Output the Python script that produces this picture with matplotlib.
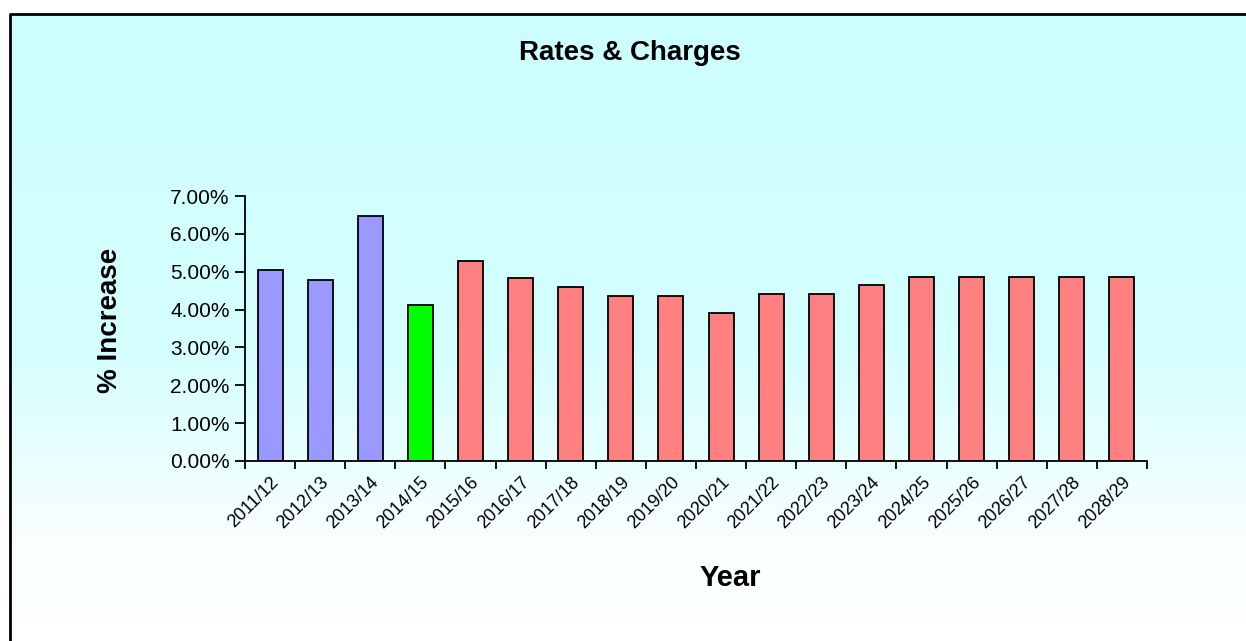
import matplotlib

matplotlib.use("Agg")
import matplotlib.pyplot as plt  # noqa: E402
import numpy as np  # noqa: E402
from matplotlib.lines import Line2D  # noqa: E402
from matplotlib.colors import LinearSegmentedColormap  # noqa: E402

plt.rcParams["font.family"] = ["Liberation Sans", "DejaVu Sans"]

years = ["2011/12", "2012/13", "2013/14", "2014/15", "2015/16", "2016/17",
         "2017/18", "2018/19", "2019/20", "2020/21", "2021/22", "2022/23",
         "2023/24", "2024/25", "2025/26", "2026/27", "2027/28", "2028/29"]
increase = [5.04, 4.79, 6.47, 4.13, 5.28, 4.83, 4.60, 4.36, 4.37, 3.90,
            4.40, 4.40, 4.64, 4.87, 4.87, 4.87, 4.87, 4.87]
period = ["past"] * 3 + ["current"] + ["forecast"] * 14

BAR_COLORS = {"past": "#9999FF", "current": "#00FF00", "forecast": "#FF8080"}

W, H = 1246, 641
fig = plt.figure(figsize=(W / 100, H / 100), dpi=100)
fig.patch.set_facecolor("white")

# background gradient panel
bg = fig.add_axes([10 / W, 0, 1 - 10 / W, 1 - 14 / H], zorder=0)
cmap = LinearSegmentedColormap.from_list(
    "bg", [(0, "#CCFFFF"), (0.55, "#D6FEFE"), (0.85, "#FAFFFF"), (1, "#FFFFFF")])
grad = np.linspace(0, 1, 256).reshape(-1, 1)
bg.imshow(grad, cmap=cmap, aspect="auto", extent=[0, 1, 0, 1], origin="upper")
bg.set_axis_off()

# border (top and left only)
fig.add_artist(Line2D([10 / W, 10 / W, 1], [0, 1 - 14 / H, 1 - 14 / H],
                      transform=fig.transFigure, color="black", linewidth=2))

ax = fig.add_axes([245 / W, 1 - 461 / H, (1147 - 245) / W, (461 - 196) / H], zorder=1)
ax.patch.set_alpha(0)

x = np.arange(len(years))
ax.bar(x, increase, width=0.5, color=[BAR_COLORS[p] for p in period],
       edgecolor="black", linewidth=1.3, zorder=2)

ax.set_xlim(-0.5, len(years) - 0.5)
ax.set_ylim(0, 7)
ax.set_yticks(np.arange(0, 8, 1))
ax.set_yticklabels([f"{v:.2f}%" for v in np.arange(0, 8, 1)], fontsize=15)

ax.set_xticks(np.arange(-0.5, len(years), 1))
ax.set_xticklabels([])
ax.set_xticks(x, minor=True)
ax.set_xticklabels(years, minor=True, rotation=45, ha="right",
                   rotation_mode="anchor", fontsize=13)
ax.tick_params(axis="x", which="minor", length=0, pad=9)
ax.tick_params(axis="y", which="major", length=7, width=1.3, direction="out", pad=4)
ax.tick_params(axis="x", which="major", length=6, width=1.3, direction="out")

for side in ["top", "right"]:
    ax.spines[side].set_visible(False)
for side in ["left", "bottom"]:
    ax.spines[side].set_linewidth(1.3)

ax.set_ylabel("% Increase", fontsize=20, fontweight="bold")
ax.yaxis.set_label_coords(-0.135, 0.53)
ax.set_xlabel("Year", fontsize=21, fontweight="bold")
ax.xaxis.set_label_coords(0.538, -0.39)

fig.text(630 / W, 1 - 53 / H, "Rates & Charges", ha="center", va="center",
         fontsize=20, fontweight="bold")

fig.savefig("out.png", dpi=100)
plt.close(fig)
